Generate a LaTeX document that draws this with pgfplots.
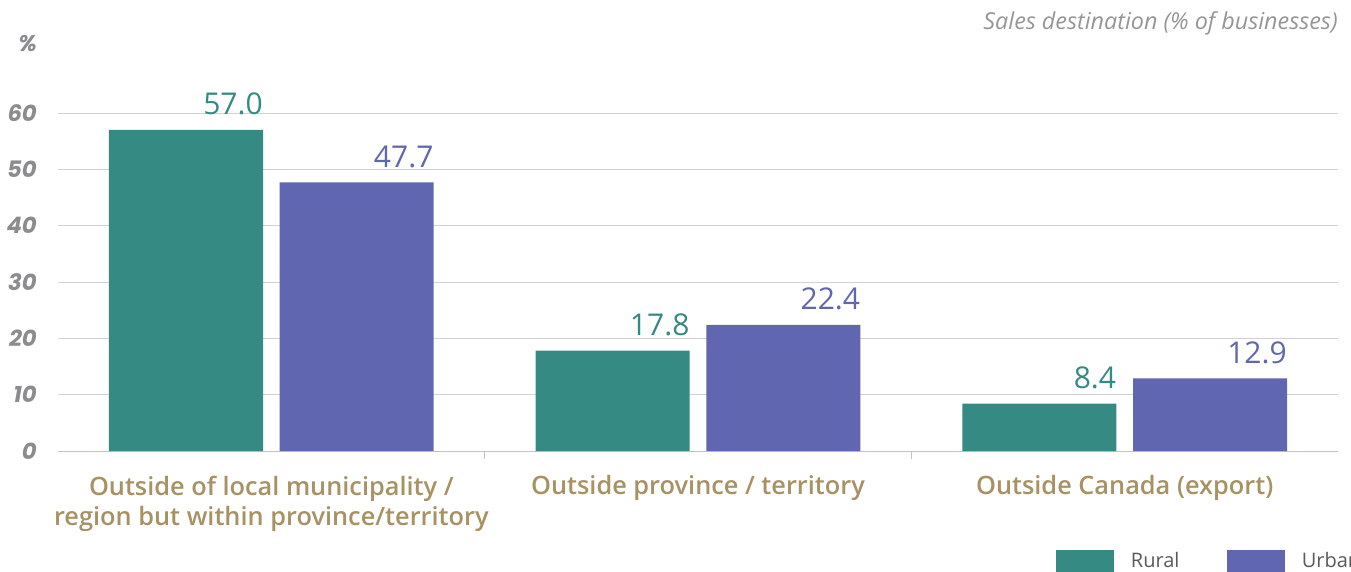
\documentclass[border=0pt]{standalone}
\usepackage{pgfplots}
\pgfplotsset{compat=1.18}
\usepackage{fontspec}
\setmainfont{Open Sans}
\newfontfamily\catfont{Open Sans Semibold}
\newfontfamily\tickfont{Poppins}
\definecolor{rural}{RGB}{53,139,132}
\definecolor{urban}{RGB}{97,102,177}
\definecolor{cat}{RGB}{168,145,98}
\definecolor{tickgray}{RGB}{140,140,142}
\definecolor{gridgray}{RGB}{210,210,210}
\definecolor{axisgray}{RGB}{195,195,195}
\definecolor{titlegray}{RGB}{150,150,150}
\definecolor{leggray}{RGB}{90,90,90}
\begin{document}
\begin{tikzpicture}
\clip (0,0) rectangle (1013.25pt,428.25pt);
\begin{axis}[
  at={(43.5pt,90pt)}, anchor=south west,
  scale only axis, width=960pt, height=253.5pt,
  xmin=-0.5, xmax=2.5, ymin=0, ymax=60,
  ybar, bar width=0.361,
  axis x line*=bottom, axis y line*=left,
  x axis line style={axisgray, line width=0.75pt, -},
  y axis line style={draw=none},
  ytick={0,10,...,60}, ymajorgrids, grid style={gridgray, line width=0.75pt},
  major tick length=0pt,
  /pgf/number format/assume math mode=true,
  y tick label style={font=\tickfont\bfseries\itshape\fontsize{17}{17}\selectfont, color=tickgray, anchor=east, inner sep=0pt, xshift=-15.75pt},
  xtick={0,1,2},
  xticklabels={{Outside of local municipality /\\region but within province/territory},{Outside province / territory},{Outside Canada (export)}},
  x tick label style={font=\catfont\fontsize{19}{22.5}\selectfont, color=cat, align=center, anchor=north, yshift=-15pt},
  extra x ticks={0.5,1.5}, extra x tick labels={},
  extra x tick style={major tick length=6pt, tick style={axisgray, line width=0.75pt}, grid=none},
  nodes near coords={\pgfmathprintnumber[fixed,fixed zerofill,precision=1,assume math mode=true]{\pgfplotspointmeta}},
  every node near coord/.append style={font=\fontsize{22.5}{22.5}\selectfont, anchor=base east, inner sep=0pt, xshift=57.75pt, yshift=11.25pt},
  legend image code/.code={\fill[#1] (0pt,-8.25pt) rectangle (43.5pt,8.25pt); \path (54pt,0pt);},
  legend columns=2,
  legend style={at={(0.7797,-0.2899)}, anchor=north west, draw=none, fill=none, inner sep=0pt, font=\fontsize{15}{15}\selectfont, text=leggray},
]
\addplot[fill=rural, draw=none, bar shift=-0.2, every node near coord/.append style={text=rural}] coordinates {(0,57.0) (1,17.8) (2,8.4)};
\addlegendentry{Rural\kern33.75pt}
\addplot[fill=urban, draw=none, bar shift=0.2, every node near coord/.append style={text=urban}] coordinates {(0,47.7) (1,22.4) (2,12.9)};
\addlegendentry{Urban}
\end{axis}
\node[anchor=base east, inner sep=0pt, font=\tickfont\bfseries\itshape\fontsize{17}{17}\selectfont, text=tickgray] at (27.75pt,389.25pt) {\%};
\node[anchor=base east, inner sep=0pt, font=\itshape\fontsize{17.5}{17.5}\selectfont, text=titlegray] at (1003.5pt,405.75pt) {Sales destination (\% of businesses)};
\end{tikzpicture}
\end{document}
